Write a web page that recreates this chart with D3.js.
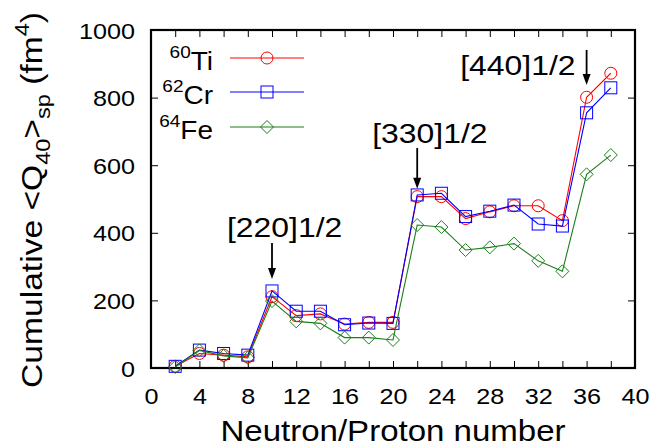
<!DOCTYPE html>
<html>
<head>
<meta charset="utf-8">
<script src="https://cdn.jsdelivr.net/npm/d3@7"></script>
<style>
  html, body { margin: 0; padding: 0; background: #fff; }
  svg { display: block; font-family: "Liberation Sans", Arial, sans-serif; }
</style>
</head>
<body>
<svg id="chart" width="654" height="448"></svg>
<script>
// ---------- data ----------
const nucleonNumber = [2, 4, 6, 8, 10, 12, 14, 16, 18, 20, 22, 24, 26, 28, 30, 32, 34, 36, 38];
const ti60 = [5, 43, 38, 33, 211, 155, 160, 130, 135, 135, 507, 507, 442, 462, 480, 480, 436, 801, 872];
const cr62 = [5, 53, 43, 38, 228, 168, 168, 128, 133, 132, 512, 517, 448, 464, 482, 426, 420, 755, 829];
const fe64 = [3, 52, 36, 30, 198, 138, 132, 90, 90, 83, 423, 417, 349, 357, 368, 317, 286, 573, 630];
const seriesNames = [["60", "Ti"], ["62", "Cr"], ["64", "Fe"]];
const seriesColors = ["#ff0000", "#0000ff", "#1a7f1a"];
const seriesMarkers = ["circle", "square", "diamond"];
const xTickValues = d3.range(0, 41, 2);
const yTickValues = [0, 200, 400, 600, 800, 1000];
const annLabels = ["[220]1/2", "[330]1/2", "[440]1/2"];
const annX = [10, 22, 36];
const annArrowFrom = [370, 651, 941];
const annArrowTo = [263, 530, 837];
const annTextY = [388, 666, 867];

// ---------- layout ----------
const svg = d3.select("#chart");
const L = 151, R = 635, T = 30, B = 368;
const SX = 1.12; // horizontal glyph stretch
const x = d3.scaleLinear().domain([0, 40]).range([L, R]);
const y = d3.scaleLinear().domain([0, 1000]).range([B, T]);

// axes (ticks inward, all four sides)
const tick = 7;
const gB = svg.append("g").attr("transform", `translate(0,${B})`)
  .call(d3.axisBottom(x).tickValues(xTickValues).tickSize(-tick).tickPadding(20)
    .tickFormat(d => d % 4 === 0 ? d : ""));
gB.selectAll("text").attr("font-size", 22.5).attr("fill", "#000")
  .attr("font-family", "Liberation Sans, Arial, sans-serif")
  .attr("transform", `scale(${SX},1)`);
const gT = svg.append("g").attr("transform", `translate(0,${T})`)
  .call(d3.axisTop(x).tickValues(xTickValues).tickSize(-tick).tickFormat(""));
const gL = svg.append("g").attr("transform", `translate(${L},0)`)
  .call(d3.axisLeft(y).tickValues(yTickValues).tickSize(-tick).tickFormat(d3.format("d")));
gL.selectAll("text").attr("font-size", 22.5).attr("fill", "#000")
  .attr("font-family", "Liberation Sans, Arial, sans-serif")
  .attr("x", -16 / SX).attr("dy", "0.36em")
  .attr("transform", `scale(${SX},1)`);
const gR = svg.append("g").attr("transform", `translate(${R},0)`)
  .call(d3.axisRight(y).tickValues(yTickValues).tickSize(-tick).tickFormat(""));
[gB, gT, gL, gR].forEach(g => {
  g.select(".domain").remove();
  g.selectAll(".tick line").attr("stroke", "#000").attr("stroke-width", 1);
});

// frame
svg.append("rect").attr("x", L).attr("y", T).attr("width", R - L).attr("height", B - T)
  .attr("fill", "none").attr("stroke", "#000").attr("stroke-width", 2.2);

// markers
function marker(g, type, cx, cy, color) {
  if (type === "circle") {
    g.append("circle").attr("cx", cx).attr("cy", cy).attr("r", 6)
      .attr("fill", "none").attr("stroke", color).attr("stroke-width", 1);
  } else if (type === "square") {
    g.append("rect").attr("x", cx - 6).attr("y", cy - 6).attr("width", 12).attr("height", 12)
      .attr("fill", "none").attr("stroke", color).attr("stroke-width", 1);
  } else {
    const s = 6.5;
    g.append("path").attr("d", `M${cx},${cy - s}L${cx + s},${cy}L${cx},${cy + s}L${cx - s},${cy}Z`)
      .attr("fill", "none").attr("stroke", color).attr("stroke-width", 1);
  }
}

const allSeries = [ti60, cr62, fe64];
const line = d3.line().x((d, i) => x(nucleonNumber[i])).y(d => y(d));
allSeries.forEach((vals, si) => {
  const g = svg.append("g");
  g.append("path").datum(vals).attr("d", line)
    .attr("fill", "none").attr("stroke", seriesColors[si]).attr("stroke-width", 1.1);
  vals.forEach((v, i) => marker(g, seriesMarkers[si], x(nucleonNumber[i]), y(v), seriesColors[si]));
});

// legend
const legY = [58, 92, 127];
seriesNames.forEach((nm, si) => {
  const g = svg.append("g");
  g.append("line").attr("x1", 230).attr("x2", 304).attr("y1", legY[si]).attr("y2", legY[si])
    .attr("stroke", seriesColors[si]).attr("stroke-width", 1.1);
  marker(g, seriesMarkers[si], 267, legY[si], seriesColors[si]);
  const t = svg.append("text").attr("transform", `translate(213,${legY[si] + 12}) scale(${SX},1)`)
    .attr("text-anchor", "end").attr("font-size", 25).attr("fill", "#000");
  t.append("tspan").attr("font-size", 17).attr("dy", -12).text(nm[0]);
  t.append("tspan").attr("dy", 12).text(nm[1]);
});

// annotations
annLabels.forEach((lab, i) => {
  const ax = x(annX[i]);
  const y0 = y(annArrowFrom[i]), y1 = y(annArrowTo[i]);
  svg.append("line").attr("x1", ax).attr("x2", ax).attr("y1", y0).attr("y2", y1 - 9)
    .attr("stroke", "#000").attr("stroke-width", 1.8);
  svg.append("path").attr("d", `M${ax},${y1}L${ax - 4},${y1 - 11}L${ax + 4},${y1 - 11}Z`).attr("fill", "#000");
  const tx = i === 2 ? ax - 11 : ax - 45;
  svg.append("text").attr("transform", `translate(${tx},${y(annTextY[i])}) scale(${SX},1)`)
    .attr("text-anchor", i === 2 ? "end" : "start")
    .attr("font-size", 28.5).attr("fill", "#000").text(lab);
});

// axis titles
svg.append("text").attr("transform", `translate(${(L + R) / 2},441) scale(${SX},1)`)
  .attr("text-anchor", "middle").attr("font-size", 29.5).attr("fill", "#000")
  .text("Neutron/Proton number");

const yt = svg.append("text").attr("transform", `translate(42,200) rotate(-90) scale(${SX},1)`)
  .attr("text-anchor", "middle").attr("font-size", 30).attr("fill", "#000");
yt.append("tspan").text("Cumulative <Q");
yt.append("tspan").attr("font-size", 21).attr("dy", 8).text("40");
yt.append("tspan").attr("dy", -8).text(">");
yt.append("tspan").attr("font-size", 21).attr("dy", 8).text("sp");
yt.append("tspan").attr("dy", -8).text(" (fm");
yt.append("tspan").attr("font-size", 21).attr("dy", -13).text("4");
yt.append("tspan").attr("dy", 13).text(")");
</script>
</body>
</html>
